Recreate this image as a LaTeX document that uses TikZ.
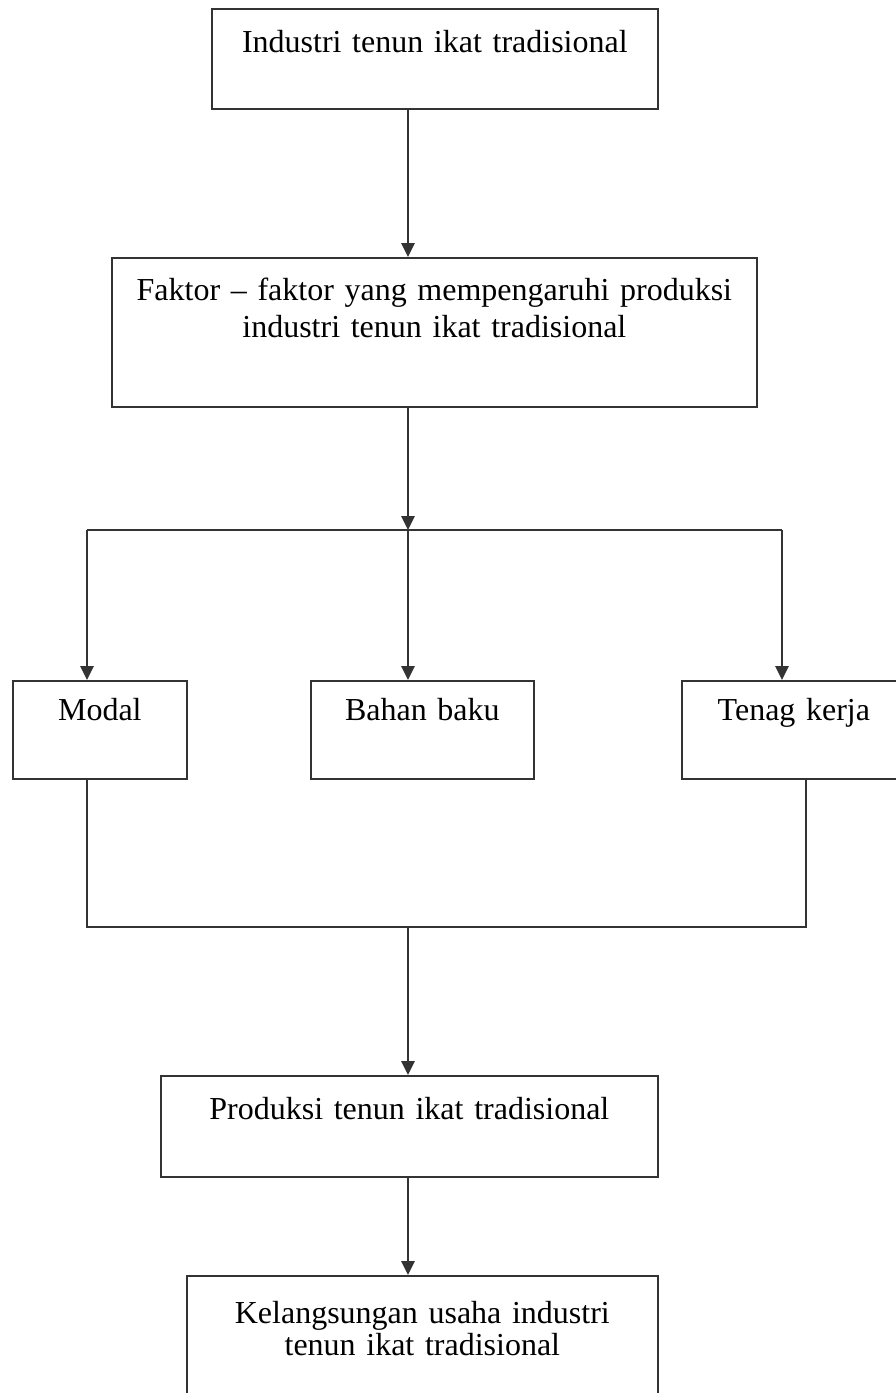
\documentclass[tikz,border=0pt]{standalone}
\usepackage{fontspec}
\setmainfont{Liberation Serif}
\usetikzlibrary{arrows.meta, positioning, calc}
\definecolor{cline}{HTML}{333333}
\tikzset{
  every picture/.style={line width=1.3pt},
  box/.style n args={3}{draw=cline, rectangle, anchor=north west, inner sep=0pt, align=center,
    text width=#1, text height=#2, text depth=#3, font=\fontsize{24}{27.5}\selectfont},
  arrow/.style={-{Triangle[length=10.5pt, width=10pt]}, draw=cline},
  link/.style={draw=cline},
}

\begin{document}
\begin{tikzpicture}[x=0.75pt, y=-0.75pt]
  \useasboundingbox (0,0) rectangle (896,1393);
  \clip (0,0) rectangle (896,1393);
  % boxes, placed by their top-left corner (px)
  \node[box={334.5pt}{33pt}{42pt}] (industri) at (211,8) {Industri tenun ikat tradisional};
  \node[box={483.75pt}{32.25pt}{79.5pt}] (faktor) at (111,257) {Faktor -- faktor yang mempengaruhi produksi\\ industri tenun ikat tradisional};
  \node[box={130.5pt}{30pt}{43.5pt}] (modal) at (12,680) {Modal};
  \node[box={167.25pt}{30pt}{43.5pt}] (bahan) at (310,680) {Bahan baku};
  \node[box={168pt}{30pt}{43.5pt}] (tenaga) at (681,680) {Tenag kerja};
  \node[box={372.75pt}{33pt}{42.75pt}] (produksi) at (160,1075) {Produksi tenun ikat tradisional};
  \node[box={353.25pt}{36pt}{80pt}] (lanjut) at (186,1275) {Kelangsungan usaha industri\\[-3.5pt] tenun ikat tradisional};
  % branch points and the columns of the side lines
  \coordinate (split) at (408,530);
  \coordinate (join) at (408,927);
  \coordinate (colL) at (87,0);
  \coordinate (colR) at (782,0);
  \coordinate (colT) at (806,0);
  % main spine
  \draw[arrow] (industri.south -| split) -- (faktor.north -| split);
  \draw[arrow] (faktor.south -| split) -- (split);
  \draw[link] (split -| colL) -- (split -| colR);
  \draw[arrow] (split -| colL) -- (modal.north -| colL);
  \draw[arrow] (split) -- (bahan.north -| split);
  \draw[arrow] (split -| colR) -- (tenaga.north -| colR);
  % modal and tenaga kerja join again
  \draw[link] (modal.south -| colL) -- (join -| colL) -- (join -| colT) -- (tenaga.south -| colT);
  \draw[arrow] (join) -- (produksi.north -| join);
  \draw[arrow] (produksi.south -| join) -- (lanjut.north -| join);
\end{tikzpicture}
\end{document}
